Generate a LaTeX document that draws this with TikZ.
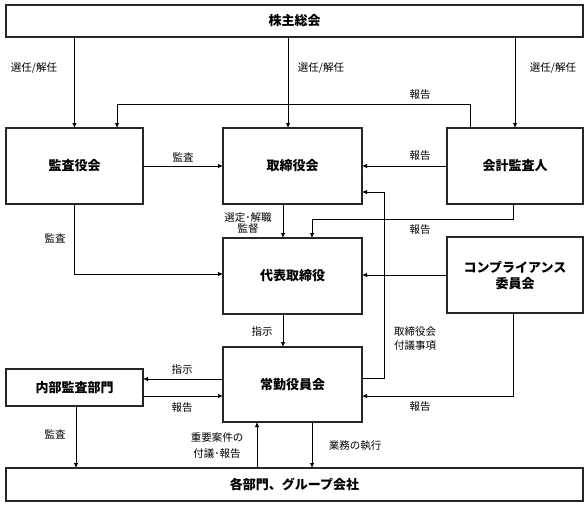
\documentclass[tikz,border=0pt]{standalone}
\usepackage{fontspec}
\setmainfont{Noto Sans CJK JP}
\usetikzlibrary{arrows.meta,positioning}

\begin{document}
\begin{tikzpicture}[x=1pt, y=-1pt, align=center, >={Latex[length=5pt,width=4.5pt]},
  box/.style={draw=black!85, line width=1.1pt, inner sep=0pt, outer sep=0pt, font=\fontsize{13}{16}\selectfont\bfseries},
  arr/.style={->, line width=0.8pt},
  lbl/.style={inner sep=0pt, font=\fontsize{10.5}{11}\selectfont}]
\useasboundingbox (0,0) rectangle (588,506);

\node (kabunushi) [box, minimum width=577pt, minimum height=32pt] at (294.5,21) {株主総会};

\node (kansayaku) [box, minimum width=137pt, minimum height=76pt] at (74.5,166) {監査役会};
\node (torishimari) [box, minimum width=139pt, minimum height=76pt] at (292.5,166) {取締役会};
\node (kaikei) [box, minimum width=136pt, minimum height=76pt] at (515,166) {会計監査人};

\node (daihyo) [box, minimum width=139pt, minimum height=76pt] at (292.5,276) {代表取締役};
\node (compliance) [box, minimum width=136pt, minimum height=76pt] at (515,275) {コンプライアンス\\委員会};

\node (naibu) [box, minimum width=137pt, minimum height=37pt] at (74.5,387.5) {内部監査部門};
\node (jokin) [box, minimum width=139pt, minimum height=75pt] at (292.5,384.5) {常勤役員会};

\node (kakubumon) [box, minimum width=577pt, minimum height=33pt] at (294.5,484.5) {各部門、グループ会社};

% -------------------------------

\draw[arr] (kabunushi.south -| kansayaku.north) -- (kansayaku.north);
\draw[arr] ([xshift=-4.5pt]torishimari.north |- kabunushi.south) -- ([xshift=-4.5pt]torishimari.north);
\draw[arr] (kabunushi.south -| kaikei.north) -- (kaikei.north);
\node (sennin1) [lbl] at (34,68) {選任/解任};
\node (sennin2) [lbl] at (321,68) {選任/解任};
\node (sennin3) [lbl] at (553,68) {選任/解任};

\draw[arr] ([xshift=-45pt]kaikei.north) -- ++(0,-24) -| ([xshift=42.5pt]kansayaku.north);
\node (hokoku1) [lbl] at (420,95) {報告};

\draw[arr] (kansayaku.east) -- (torishimari.west);
\node (kansa1) [lbl] at (183,157) {監査};
\draw[arr] (kaikei.west) -- (torishimari.east);
\node (hokoku2) [lbl] at (420,156) {報告};

% -------------------------------

\draw[arr] ([xshift=-9.5pt]torishimari.south) -- ([xshift=-9.5pt]daihyo.north);
\node (sentei) [lbl] at (248,223) {選定･解職\\監督};

\draw[arr] ([xshift=-2pt]kaikei.south) -- ++(0,15) -| ([xshift=19.5pt]daihyo.north);
\node (hokoku3) [lbl] at (420,230) {報告};

\draw[arr] (kansayaku.south) |- ([yshift=2pt]daihyo.west);
\node (kansa2) [lbl] at (55,238) {監査};
\draw[arr] (compliance.west) -- (compliance.west -| daihyo.east);

% -------------------------------

\draw[arr] ([xshift=-9.5pt]daihyo.south) -- ([xshift=-9.5pt]jokin.north);
\node (shiji1) [lbl] at (262,332) {指示};

\draw[arr] ([yshift=6.5pt]jokin.east) -- ++(22,0) |- ([yshift=-26pt]torishimari.east);
\node (fugi) [lbl, font=\fontsize{10.5}{13.3}\selectfont] at (415,338.5) {取締役会\\付議事項};

\draw[arr] ([xshift=-2pt]compliance.south) |- ([yshift=-11.5pt]jokin.east);
\node (hokoku4) [lbl] at (420,407) {報告};

\draw[arr] ([yshift=5.5pt]jokin.west) -- ([yshift=8.5pt]naibu.east);
\node (shiji2) [lbl] at (182,370) {指示};
\draw[arr] ([yshift=-8.5pt]naibu.east) -- ([yshift=-11.5pt]jokin.west);
\node (hokoku5) [lbl] at (182,408) {報告};

% -------------------------------

\draw[arr] ([xshift=1.5pt]naibu.south) -- ([xshift=1.5pt]naibu.south |- kakubumon.north);
\node (kansa3) [lbl] at (55,434) {監査};

\draw[arr] ([xshift=-35.5pt]jokin.south |- kakubumon.north) -- ([xshift=-35.5pt]jokin.south);
\node (juyo) [lbl, font=\fontsize{10.5}{15.6}\selectfont] at (217,445.5) {重要案件の\\付議･報告};

\draw[arr] ([xshift=19.5pt]jokin.south) -- ([xshift=19.5pt]jokin.south |- kakubumon.north);
\node (gyomu) [lbl] at (355,446) {業務の執行};
\end{tikzpicture}
\end{document}
